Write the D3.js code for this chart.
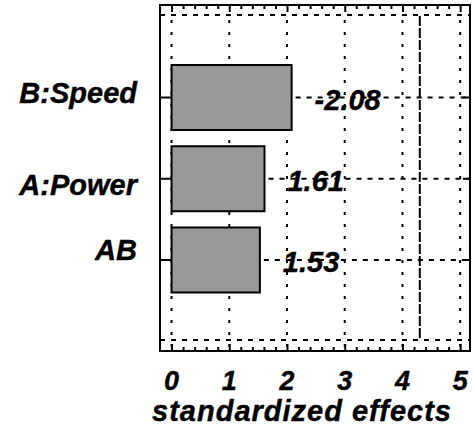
<!DOCTYPE html>
<html>
<head>
<meta charset="utf-8">
<script src="https://cdn.jsdelivr.net/npm/d3@7"></script>
<style>
  body { margin: 0; background: #fff; }
  text { font-family: "Liberation Sans", Arial, sans-serif; font-weight: bold; font-style: italic; fill: #000; stroke: #000; stroke-width: 0.4px; }
</style>
</head>
<body>
<svg id="chart" width="473" height="436"></svg>
<script>
// Standardized effects (Pareto chart)
var factors = ["B:Speed", "A:Power", "AB"];
var effects = [-2.08, 1.61, 1.53];
var effectLabels = ["-2.08", "1.61", "1.53"];
var xTicks = [0, 1, 2, 3, 4, 5];
var criticalValue = 4.3;
var axisTitle = "standardized effects";

var svg = d3.select("#chart");
var frame = {left: 160, right: 470, top: 5, bottom: 351};

var x = d3.scaleLinear().domain([-0.2, 5.17]).range([frame.left, frame.right]);
var y = d3.scaleBand().domain(factors).range([56.9, 300.6])
  .paddingInner(0.2).paddingOuter(0.1);

var g = svg.append("g");

// inner dashed lines near top and bottom
[15, 340].forEach(function(yy) {
  g.append("line")
    .attr("x1", frame.left).attr("x2", frame.right)
    .attr("y1", yy).attr("y2", yy)
    .attr("stroke", "#000").attr("stroke-width", 2)
    .attr("stroke-dasharray", "5,6");
});

// vertical dotted grid at each tick
g.selectAll(".vgrid")
  .data(xTicks)
  .enter()
  .append("line")
    .attr("class", "vgrid")
    .attr("x1", function(d) { return x(d); })
    .attr("x2", function(d) { return x(d); })
    .attr("y1", 20).attr("y2", frame.bottom)
    .attr("stroke", "#000").attr("stroke-width", 2)
    .attr("stroke-dasharray", "3,9");

// critical value line
g.append("line")
  .attr("x1", x(criticalValue)).attr("x2", x(criticalValue))
  .attr("y1", 16).attr("y2", 340)
  .attr("stroke", "#000").attr("stroke-width", 2)
  .attr("stroke-dasharray", "10,2");

var rows = factors.map(function(f, i) {
  return {name: f, value: Math.abs(effects[i]), label: effectLabels[i]};
});

// dashed line from bar end to right frame
g.selectAll(".hline")
  .data(rows)
  .enter()
  .append("line")
    .attr("x1", function(d) { return x(d.value) + 4; })
    .attr("x2", frame.right)
    .attr("y1", function(d) { return y(d.name) + y.bandwidth() / 2; })
    .attr("y2", function(d) { return y(d.name) + y.bandwidth() / 2; })
    .attr("stroke", "#000").attr("stroke-width", 2)
    .attr("stroke-dasharray", "5,6");

// left and right row ticks
g.selectAll(".ltick")
  .data(rows)
  .enter()
  .append("line")
    .attr("x1", frame.left).attr("x2", x(0))
    .attr("y1", function(d) { return y(d.name) + y.bandwidth() / 2; })
    .attr("y2", function(d) { return y(d.name) + y.bandwidth() / 2; })
    .attr("stroke", "#000").attr("stroke-width", 2);
g.selectAll(".rtick")
  .data(rows)
  .enter()
  .append("line")
    .attr("x1", frame.right - 7).attr("x2", frame.right)
    .attr("y1", function(d) { return y(d.name) + y.bandwidth() / 2; })
    .attr("y2", function(d) { return y(d.name) + y.bandwidth() / 2; })
    .attr("stroke", "#000").attr("stroke-width", 2);

// bars
g.selectAll(".bar")
  .data(rows)
  .enter()
  .append("rect")
    .attr("class", "bar")
    .attr("x", x(0))
    .attr("y", function(d) { return y(d.name); })
    .attr("width", function(d) { return x(d.value) - x(0); })
    .attr("height", y.bandwidth())
    .attr("fill", "#999999")
    .attr("stroke", "#000")
    .attr("stroke-width", 2);

// value labels
g.selectAll(".vlabel")
  .data(rows)
  .enter()
  .append("text")
    .attr("x", function(d) { return x(d.value) + 23; })
    .attr("y", function(d) { return y(d.name) + y.bandwidth() / 2 + 12.5; })
    .attr("font-size", 29)
    .text(function(d) { return d.label; });

// category labels (slightly uneven in the original)
var labelNudge = [5.5, 16, 0];
g.selectAll(".clabel")
  .data(rows)
  .enter()
  .append("text")
    .attr("x", 137)
    .attr("y", function(d, i) { return y(d.name) + y.bandwidth() / 2 + labelNudge[i]; })
    .attr("text-anchor", "end")
    .attr("font-size", 29)
    .text(function(d) { return d.name; });

// top and bottom axes with major and minor ticks pointing inward
var minor = d3.range(-0.2, 5.17, 0.2).map(function(v) { return Math.round(v * 10) / 10; })
  .filter(function(v) { return xTicks.indexOf(v) < 0 && v > -0.2; });
g.append("g")
  .attr("transform", "translate(0," + frame.top + ")")
  .call(d3.axisBottom(x).tickValues(xTicks).tickSize(7).tickFormat(""))
  .call(function(s) { s.select(".domain").remove(); s.selectAll("line").attr("stroke-width", 2); });
g.append("g")
  .attr("transform", "translate(0," + frame.top + ")")
  .call(d3.axisBottom(x).tickValues(minor).tickSize(4).tickFormat(""))
  .call(function(s) { s.select(".domain").remove(); s.selectAll("line").attr("stroke-width", 2); });
g.append("g")
  .attr("transform", "translate(0," + frame.bottom + ")")
  .call(d3.axisTop(x).tickValues(xTicks).tickSize(7).tickFormat(""))
  .call(function(s) { s.select(".domain").remove(); s.selectAll("line").attr("stroke-width", 2); });
g.append("g")
  .attr("transform", "translate(0," + frame.bottom + ")")
  .call(d3.axisTop(x).tickValues(minor).tickSize(4).tickFormat(""))
  .call(function(s) { s.select(".domain").remove(); s.selectAll("line").attr("stroke-width", 2); });

// frame
g.append("rect")
  .attr("x", frame.left).attr("y", frame.top)
  .attr("width", frame.right - frame.left).attr("height", frame.bottom - frame.top)
  .attr("fill", "none").attr("stroke", "#000").attr("stroke-width", 2);

// tick labels
g.selectAll(".xlabel")
  .data(xTicks)
  .enter()
  .append("text")
    .attr("x", function(d) { return x(d); })
    .attr("y", 390)
    .attr("text-anchor", "middle")
    .attr("font-size", 27)
    .text(function(d) { return d; });

g.append("text")
  .attr("x", 302)
  .attr("y", 421)
  .attr("text-anchor", "middle")
  .attr("font-size", 29)
  .attr("letter-spacing", 1)
  .text(axisTitle);
</script>
</body>
</html>
